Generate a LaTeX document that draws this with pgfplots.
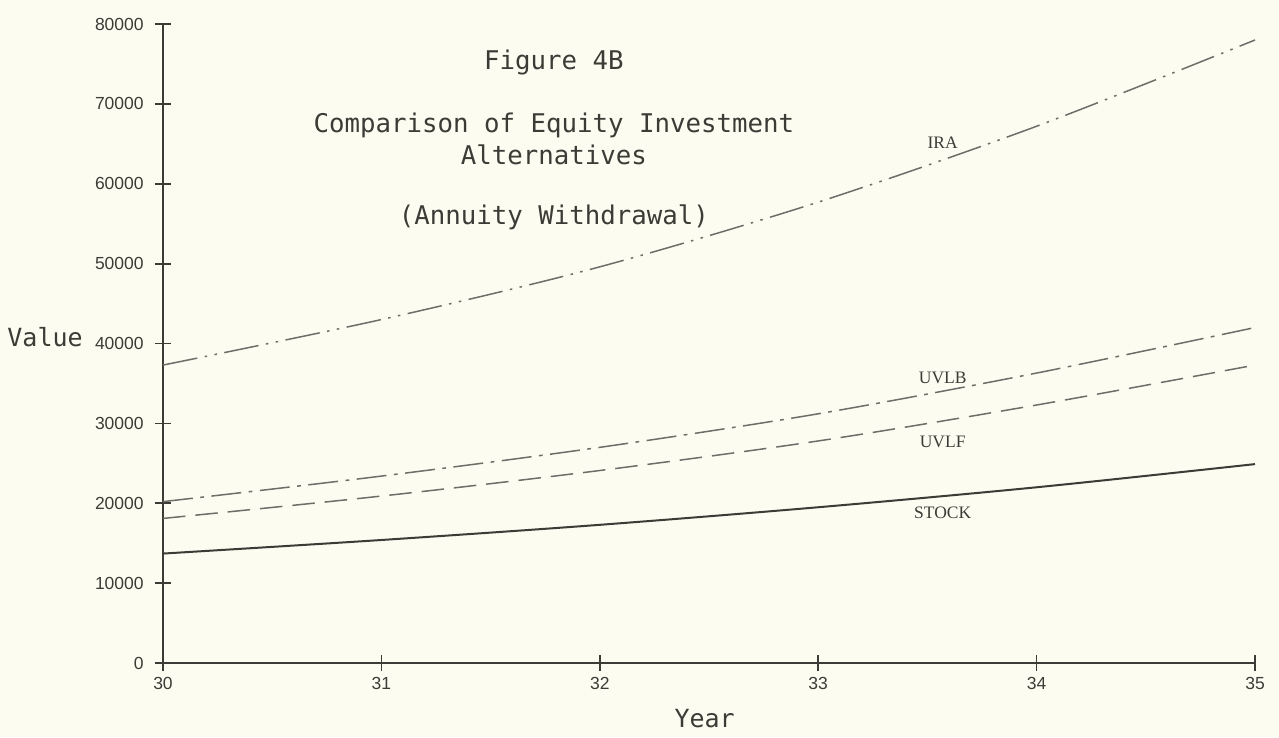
\documentclass[border=0pt]{standalone}
\usepackage{pgfplots}
\pgfplotsset{compat=1.18}
\usepackage{fontspec}
\setmainfont{Liberation Serif}
\newfontfamily\monof{DejaVu Sans Mono}
\newfontfamily\tickf{Liberation Sans}
\definecolor{bg}{RGB}{253,252,241}
\definecolor{ln}{RGB}{110,110,105}
\definecolor{dk}{RGB}{60,60,55}
\begin{document}
\begin{tikzpicture}
\fill[bg] (-65.2pt,-29.6pt) rectangle (446.4pt,265.2pt);
\begin{axis}[
  at={(0,0)}, anchor=south west,
  scale only axis, width=436.8pt, height=255.6pt,
  xmin=30, xmax=35, ymin=0, ymax=80000,
  xtick={30,31,32,33,34,35},
  ytick={0,10000,20000,30000,40000,50000,60000,70000,80000},
  axis x line=bottom, axis y line=left,
  axis line style={-, dk, line width=0.7pt},
  tick align=center, major tick length=6.4pt,
  tick style={dk, line width=0.7pt},
  /pgf/number format/1000 sep={},
  /pgf/number format/assume math mode=true,
  tick label style={font=\fontsize{7}{8}\selectfont\tickf, text=dk},
  yticklabel style={xshift=-1pt},
  xticklabel style={yshift=1.2pt},
  scaled y ticks=false,
  clip=false,
]
\addplot[ln, line width=0.6pt, smooth, dash pattern=on 14pt off 3pt on 1pt off 3pt on 1pt off 3pt] coordinates {(30,37300) (31,43000) (32,49600) (33,57700) (34,67200) (35,78000)};
\addplot[ln, line width=0.6pt, smooth, dash pattern=on 12pt off 3pt on 1.5pt off 3pt] coordinates {(30,20200) (31,23400) (32,27000) (33,31200) (34,36300) (35,42000)};
\addplot[ln, line width=0.6pt, smooth, dash pattern=on 9pt off 4pt] coordinates {(30,18100) (31,20900) (32,24100) (33,27800) (34,32300) (35,37300)};
\addplot[dk, line width=0.8pt, smooth] coordinates {(30,13700) (31,15400) (32,17300) (33,19500) (34,22000) (35,24900)};
\node[font=\fontsize{7}{8}\selectfont, text=dk] at (axis cs:33.57,65100) {IRA};
\node[font=\fontsize{7}{8}\selectfont, text=dk] at (axis cs:33.57,35680) {UVLB};
\node[font=\fontsize{7}{8}\selectfont, text=dk] at (axis cs:33.57,27670) {UVLF};
\node[font=\fontsize{7}{8}\selectfont, text=dk] at (axis cs:33.57,18780) {STOCK};
\node[font=\fontsize{10.3}{12}\selectfont\monof, text=dk] at (axis cs:31.79,75240) {Figure 4B};
\node[font=\fontsize{10.3}{12}\selectfont\monof, text=dk] at (axis cs:31.79,67360) {Comparison of Equity Investment};
\node[font=\fontsize{10.3}{12}\selectfont\monof, text=dk] at (axis cs:31.79,63600) {Alternatives};
\node[font=\fontsize{10.3}{12}\selectfont\monof, text=dk] at (axis cs:31.79,55800) {(Annuity Withdrawal)};
\node[font=\fontsize{10}{12}\selectfont\monof, text=dk] at (axis cs:29.46,40800) {Value};
\node[font=\fontsize{10}{12}\selectfont\monof, text=dk] at (axis cs:32.48,-6900) {Year};
\end{axis}
\pgfresetboundingbox
\path (-65.2pt,-29.6pt) rectangle (446.4pt,265.2pt);
\end{tikzpicture}
\end{document}
